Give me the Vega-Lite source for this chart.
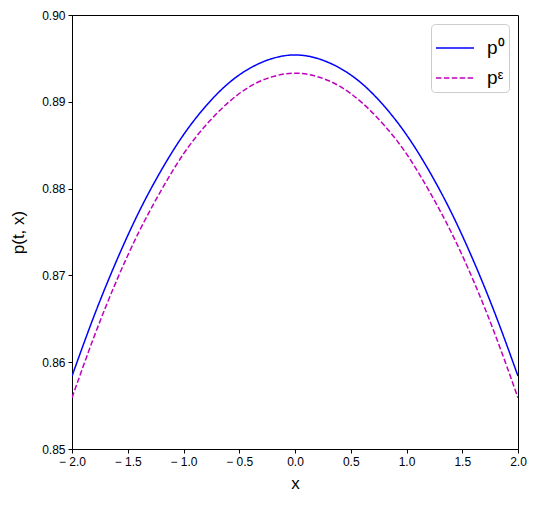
{
  "$schema": "https://vega.github.io/schema/vega-lite/v6.json",
  "width": 446,
  "height": 434,
  "autosize": {"type": "none"},
  "padding": {"left": 72, "top": 15, "right": 21, "bottom": 56},
  "background": "white",
  "config": {
    "font": "Liberation Sans",
    "view": {"stroke": "black", "strokeWidth": 1},
    "axis": {"grid": false, "domainColor": "black", "tickColor": "black", "labelColor": "black", "titleColor": "black", "labelFontSize": 12, "titleFontSize": 17, "titleFontWeight": "normal", "tickSize": 4, "labelPadding": 3}
  },
  "data": {"values": [
    {"x": -2.0, "p": 0.8584, "s": "p⁰"},
    {"x": -1.8, "p": 0.8654, "s": "p⁰"},
    {"x": -1.6, "p": 0.8717, "s": "p⁰"},
    {"x": -1.4, "p": 0.8773, "s": "p⁰"},
    {"x": -1.2, "p": 0.8821, "s": "p⁰"},
    {"x": -1.0, "p": 0.8862, "s": "p⁰"},
    {"x": -0.8, "p": 0.8895, "s": "p⁰"},
    {"x": -0.6, "p": 0.8921, "s": "p⁰"},
    {"x": -0.4, "p": 0.8939, "s": "p⁰"},
    {"x": -0.2, "p": 0.8950, "s": "p⁰"},
    {"x": 0.0, "p": 0.8954, "s": "p⁰"},
    {"x": 0.2, "p": 0.8950, "s": "p⁰"},
    {"x": 0.4, "p": 0.8939, "s": "p⁰"},
    {"x": 0.6, "p": 0.8921, "s": "p⁰"},
    {"x": 0.8, "p": 0.8895, "s": "p⁰"},
    {"x": 1.0, "p": 0.8862, "s": "p⁰"},
    {"x": 1.2, "p": 0.8821, "s": "p⁰"},
    {"x": 1.4, "p": 0.8773, "s": "p⁰"},
    {"x": 1.6, "p": 0.8717, "s": "p⁰"},
    {"x": 1.8, "p": 0.8654, "s": "p⁰"},
    {"x": 2.0, "p": 0.8584, "s": "p⁰"},
    {"x": -2.0, "p": 0.8559, "s": "pᵋ"},
    {"x": -1.8, "p": 0.8630, "s": "pᵋ"},
    {"x": -1.6, "p": 0.8694, "s": "pᵋ"},
    {"x": -1.4, "p": 0.8750, "s": "pᵋ"},
    {"x": -1.2, "p": 0.8798, "s": "pᵋ"},
    {"x": -1.0, "p": 0.8840, "s": "pᵋ"},
    {"x": -0.8, "p": 0.8873, "s": "pᵋ"},
    {"x": -0.6, "p": 0.8899, "s": "pᵋ"},
    {"x": -0.4, "p": 0.8918, "s": "pᵋ"},
    {"x": -0.2, "p": 0.8929, "s": "pᵋ"},
    {"x": 0.0, "p": 0.8933, "s": "pᵋ"},
    {"x": 0.2, "p": 0.8929, "s": "pᵋ"},
    {"x": 0.4, "p": 0.8918, "s": "pᵋ"},
    {"x": 0.6, "p": 0.8899, "s": "pᵋ"},
    {"x": 0.8, "p": 0.8873, "s": "pᵋ"},
    {"x": 1.0, "p": 0.8840, "s": "pᵋ"},
    {"x": 1.2, "p": 0.8798, "s": "pᵋ"},
    {"x": 1.4, "p": 0.8750, "s": "pᵋ"},
    {"x": 1.6, "p": 0.8694, "s": "pᵋ"},
    {"x": 1.8, "p": 0.8630, "s": "pᵋ"},
    {"x": 2.0, "p": 0.8559, "s": "pᵋ"}
  ]},
  "mark": {"type": "line", "interpolate": "natural", "strokeWidth": 1.5, "clip": true},
  "encoding": {
    "x": {"field": "x", "type": "quantitative", "scale": {"domain": [-2, 2], "nice": false, "zero": false},
      "axis": {"values": [-2, -1.5, -1, -0.5, 0, 0.5, 1, 1.5, 2], "labelExpr": "datum.value < 0 ? '− ' + format(-datum.value, '.1f') : format(datum.value, '.1f')", "title": "x", "titlePadding": 8, "labelFlush": false}},
    "y": {"field": "p", "type": "quantitative", "scale": {"domain": [0.85, 0.90], "nice": false, "zero": false},
      "axis": {"values": [0.85, 0.86, 0.87, 0.88, 0.89, 0.90], "format": ".2f", "title": "p(t, x)", "titlePadding": 14, "labelFlush": false}},
    "color": {"field": "s", "type": "nominal", "scale": {"domain": ["p⁰", "pᵋ"], "range": ["#0000ff", "#bf00bf"]},
      "legend": {"title": null, "orient": "top-right", "offset": 9, "symbolType": "stroke", "symbolSize": 1444, "symbolStrokeWidth": 1.5, "labelFontSize": 19, "labelColor": "black", "strokeColor": "#cccccc", "fillColor": "white", "cornerRadius": 4, "padding": 4, "rowPadding": -16, "labelOffset": 12}},
    "strokeDash": {"field": "s", "type": "nominal", "scale": {"domain": ["p⁰", "pᵋ"], "range": [[1, 0], [5.5, 2.4]]}}
  }
}
